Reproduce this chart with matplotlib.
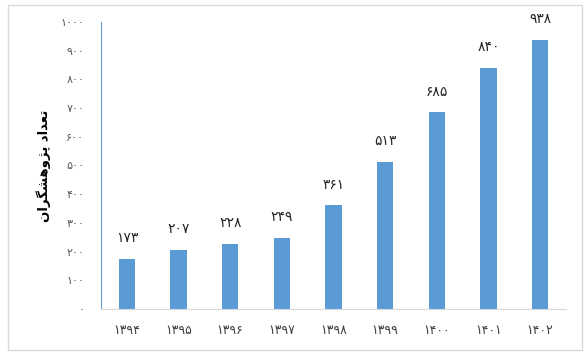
import matplotlib
matplotlib.use("Agg")
import matplotlib.pyplot as plt
from matplotlib.patches import Rectangle

# data
years = ["۱۳۹۴", "۱۳۹۵", "۱۳۹۶", "۱۳۹۷", "۱۳۹۸", "۱۳۹۹", "۱۴۰۰", "۱۴۰۱", "۱۴۰۲"]
researchers = [173, 207, 228, 249, 361, 513, 685, 840, 938]
bar_labels = ["۱۷۳", "۲۰۷", "۲۲۸", "۲۴۹", "۳۶۱", "۵۱۳", "۶۸۵", "۸۴۰", "۹۳۸"]
y_ticks = [0, 100, 200, 300, 400, 500, 600, 700, 800, 900, 1000]
y_tick_labels = ["۰", "۱۰۰", "۲۰۰", "۳۰۰", "۴۰۰", "۵۰۰", "۶۰۰", "۷۰۰", "۸۰۰", "۹۰۰", "۱۰۰۰"]

# "تعداد پژوهشگران" in joined presentation forms, visual (left-to-right) order
ylabel_forms = ["\uFE97", "\uFECC", "\uFEAA", "\uFE8D", "\uFEA9", " ",
                "\uFB58", "\uFB8B", "\uFEED", "\uFEEB", "\uFEB8", "\uFB95",
                "\uFEAE", "\uFE8D", "\uFEE5"]
ylabel_text = "".join(reversed(ylabel_forms))

plt.rcParams['font.family'] = ['DejaVu Sans']

fig = plt.figure(figsize=(5.88, 3.55), dpi=100)
fig.patches.append(Rectangle((8 / 588, 1 - 350 / 355), 574 / 588, 345 / 355,
                             transform=fig.transFigure, fill=False,
                             edgecolor='#d9d9d9', linewidth=1))

ax = fig.add_axes([101 / 588, 1 - 309 / 355, 465 / 588, 287 / 355])
x = list(range(len(years)))
ax.bar(x, researchers, width=0.31, color='#5b9bd5', zorder=2)

for xi, v, lab in zip(x, researchers, bar_labels):
    ax.annotate(lab, (xi, v), xytext=(0, 10), textcoords='offset points',
                ha='center', va='bottom', fontsize=10, color='#262626')

ax.set_xlim(-0.5, len(years) - 0.5)
ax.set_ylim(0, 1000)
ax.set_yticks(y_ticks)
ax.set_yticklabels(y_tick_labels, fontsize=8, color='#595959')
ax.set_xticks(x)
ax.set_xticklabels(years, fontsize=9, color='#404040')
ax.tick_params(axis='y', length=0, pad=12)
ax.tick_params(axis='x', length=0, pad=11)

for s in ['top', 'right']:
    ax.spines[s].set_visible(False)
ax.spines['left'].set_color('#6a9bd0')
ax.spines['bottom'].set_color('#d9d9d9')

ax.set_ylabel(ylabel_text, fontsize=9.5, fontweight='bold', color='black', labelpad=7)

fig.savefig("out.png", dpi=100)
